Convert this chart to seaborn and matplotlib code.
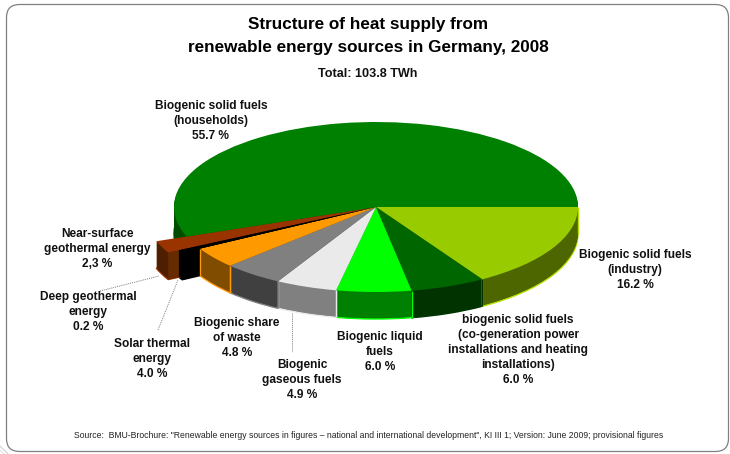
import numpy as np
import matplotlib
matplotlib.use('Agg')
import matplotlib.pyplot as plt
from matplotlib.patches import FancyBboxPatch
import seaborn as sns

# Datos de la grafica (empieza a las 3 en punto, sentido horario)
categorias = ['Biogenic solid fuels\n(industry)',
              'biogenic solid fuels\n(co-generation power\ninstallations and heating\ninstallations)',
              'Biogenic liquid\nfuels',
              'Biogenic\ngaseous fuels',
              'Biogenic share\nof waste',
              'Solar thermal\nenergy',
              'Deep geothermal\nenergy',
              'Near-surface\ngeothermal energy',
              'Biogenic solid fuels\n(households)']
etiquetas_valor = ['16.2 %', '6.0 %', '6.0 %', '4.9 %', '4.8 %', '4.0 %', '0.2 %', '2,3 %', '55.7 %']
# Tamano tal como se ve en el dibujo: la cuna negra esta dibujada mas ancha que su 0.2 %
partes = [16.2, 6.0, 6.0, 4.9, 4.8, 4.0, 0.5, 2.0, 55.7]

titulo = 'Structure of heat supply from\nrenewable energy sources in Germany, 2008'
total = 'Total: 103.8 TWh'
fuente = ('Source:  BMU-Brochure: "Renewable energy sources in figures \u2013 national and '
          'international development", KI III 1; Version: June 2009; provisional figures')

# Colores de la cara superior, de la cara lateral y del borde
colores = sns.color_palette(['#99CC00', '#006600', '#00FF00', '#EAEAEA', '#808080',
                             '#FF9900', '#000000', '#993300', '#008000'])
laterales = sns.color_palette(['#4D6600', '#003300', '#008000', '#808080', '#404040',
                               '#804D00', '#000000', '#4D1F00', '#004D00'])
bordes = sns.color_palette(['#B5E000', '#003300', '#00FF00', '#EAEAEA', '#808080',
                            '#FF9900', '#000000', '#993300', '#004D00'])

# Posicion de los textos en pixeles
pos_texto = [(635, 270), (518, 350), (380, 352), (302, 380), (237, 338),
             (152, 359), (88, 312), (97, 249), (211, 121)]

# Pastel en pixeles: centro, semiejes y grosor
cx, cy, rx, ry, grosor = 376, 207, 202, 85, 27
ANCHO, ALTO = 730, 454
r_negro, r_cafe = 1.10, 1.16
NEGRO, CAFE = 6, 7

sns.set_theme(style='white')
plt.rcParams['font.family'] = ['Liberation Sans', 'DejaVu Sans']

fig = plt.figure(figsize=(ANCHO / 100, ALTO / 100), dpi=100, facecolor='white')

# Ejes de fondo en pixeles para el marco
fondo = fig.add_axes([0, 0, 1, 1])
fondo.set_xlim(0, ANCHO)
fondo.set_ylim(ALTO, 0)
fondo.axis('off')
fondo.add_patch(FancyBboxPatch((6.5, 4.5), 722, 447, boxstyle='round,pad=0,rounding_size=13',
                               fc='white', ec='#808080', lw=0.9))
# Restos de otro marco en la esquina inferior izquierda
fondo.plot([0, 8], [446, 454], color='#D0D0D0', lw=0.8)
fondo.plot([0, 4], [450, 454], color='#E0E0E0', lw=0.8)

# Ejes del pastel: una unidad = un semieje
ax = fig.add_axes([0, 0, 1, 1])
ax.patch.set_alpha(0)


def pastel(dy, cols, edges=None):
    w, _ = ax.pie(partes, colors=cols, startangle=0, counterclock=False, radius=1,
                  center=(0, -dy / ry), wedgeprops={'linewidth': 1.0 if edges else 0})
    for n, cuna in enumerate(w):
        cuna.set_edgecolor(edges[n] if edges else cols[n])
    w[NEGRO].set_radius(r_negro)
    w[CAFE].set_radius(r_cafe)
    return w


# Angulos acumulados de cada cuna (sentido horario)
fin = np.cumsum(partes) / np.sum(partes) * 360
inicio = np.concatenate([[0], fin[:-1]])


def punto(ang, r=1.0, dy=0):
    return r * np.cos(np.radians(ang)), -r * np.sin(np.radians(ang)) - dy / ry


# Caras laterales apiladas, de abajo hacia arriba
pastel(grosor, laterales, bordes)
for k in range(grosor - 1, 0, -1):
    pastel(k, laterales)

# Caras frontales de las dos cunas separadas
a = punto(inicio[NEGRO])
b = punto(fin[NEGRO], r_negro)
c = punto(fin[NEGRO], r_cafe)
ab = punto(inicio[NEGRO], dy=grosor)
bb = punto(fin[NEGRO], r_negro, dy=grosor)
cb = punto(fin[NEGRO], r_cafe, dy=grosor)
ax.fill([b[0], c[0], cb[0], bb[0]], [b[1], c[1], cb[1], bb[1]], color='#662B00', lw=0)
ax.fill([a[0], b[0], bb[0], ab[0]], [a[1], b[1], bb[1], ab[1]], color='black', lw=0)

# Lineas verticales entre las caras laterales
for i in range(6):
    for ang in (inicio[i], fin[i]):
        x0, y0 = punto(ang)
        x1, y1 = punto(ang, dy=grosor)
        ax.plot([x0, x1], [y0, y1], color=bordes[i], lw=1.0, solid_capstyle='butt')

# Cara superior
pastel(0, colores)
# Cuna negra superior: del borde del pastel a la esquina del bloque separado
ax.fill([0, a[0], b[0]], [0, a[1], b[1]], color='black', lw=0)

ax.set_aspect('auto')
ax.set_xlim(-cx / rx, (ANCHO - cx) / rx)
ax.set_ylim((cy - ALTO) / ry, cy / ry)
ax.axis('off')

# Textos en pixeles encima de todo
txt = fig.add_axes([0, 0, 1, 1])
txt.set_xlim(0, ANCHO)
txt.set_ylim(ALTO, 0)
txt.axis('off')

txt.text(368, 36, titulo, ha='center', va='center', fontsize=12.3, fontweight='bold',
         linespacing=1.62, color='black')
txt.text(368, 74, total, ha='center', va='center', fontsize=9.1, fontweight='bold', color='#111111')
for cat, val, (x, y) in zip(categorias, etiquetas_valor, pos_texto):
    txt.text(x, y, cat + '\n' + val, ha='center', va='center', fontsize=8.6,
             fontweight='bold', linespacing=1.31, color='#111111')
txt.text(369, 435, fuente, ha='center', va='center', fontsize=6.25, color='#222222')

# Lineas punteadas de referencia
for xs, ys in [((100, 159), (291, 276)), ((158, 178), (330, 280)), ((292, 292), (313, 352))]:
    txt.plot(xs, ys, color='#808080', lw=0.7, ls=(0, (1, 1)))

fig.savefig('out.png', dpi=100)
